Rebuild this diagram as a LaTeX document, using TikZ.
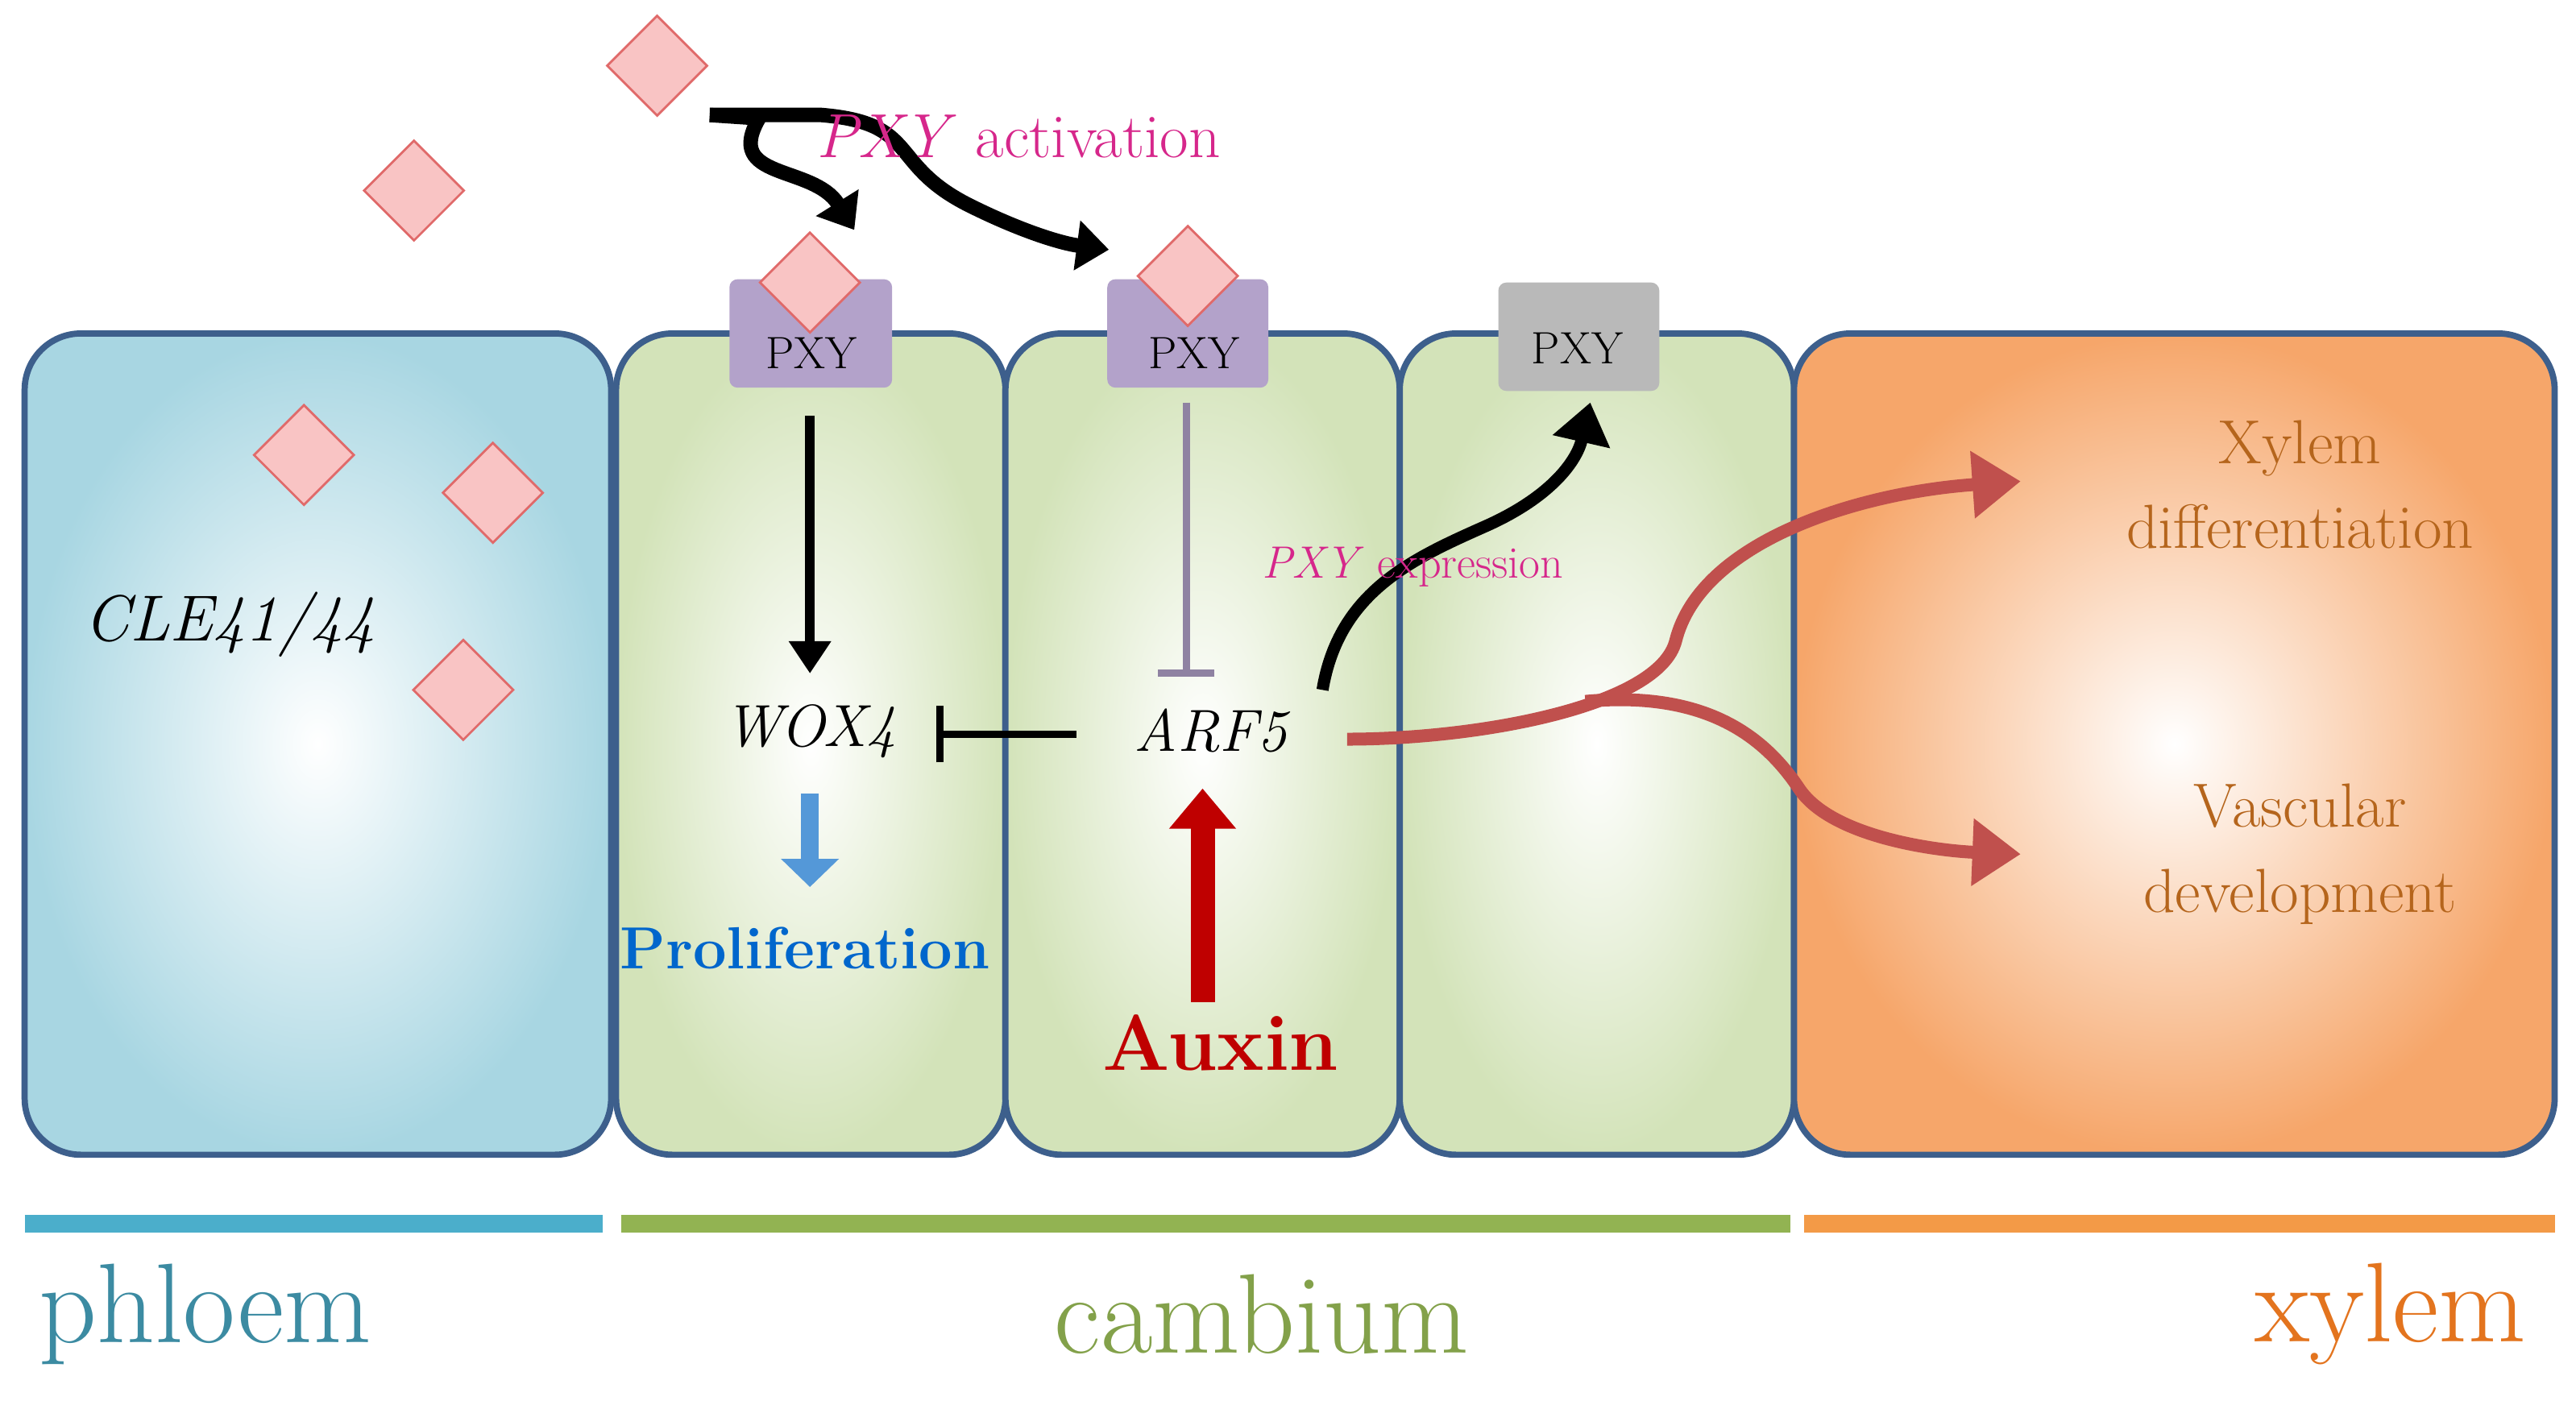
\documentclass[tikz,border=0pt]{standalone}
\usetikzlibrary{arrows.meta,shapes.geometric}
\definecolor{cellb}{HTML}{3D5F8C}
\definecolor{dpink}{HTML}{F9C4C4}
\definecolor{dpinkb}{HTML}{E06A6A}
\definecolor{mag}{HTML}{D6278B}
\definecolor{purp}{HTML}{B3A2CA}
\definecolor{phl}{HTML}{A8D6E2}
\definecolor{cam}{HTML}{D3E3B9}
\definecolor{xyl}{HTML}{F6A66A}
\definecolor{brn}{HTML}{B5651C}
\definecolor{pbarc}{HTML}{4BAECB}
\definecolor{cbarc}{HTML}{92B352}
\definecolor{xbarc}{HTML}{F39A47}
\definecolor{xtext}{HTML}{E3741E}
\definecolor{redarr}{HTML}{C0504D}
\begin{document}
\begin{tikzpicture}[x=0.2039mm,y=-0.2039mm,
  cell/.style={draw=cellb,line width=2.2pt,rounded corners=7mm},
  dia/.style={diamond,draw=dpinkb,fill=dpink,line width=0.8pt,minimum width=12.5mm,minimum height=12.5mm,inner sep=0},
  lab/.style={font=\fontsize{22}{26}\selectfont},
  bar/.style={line width=2.2mm}]
\useasboundingbox (0,0) rectangle (1568,855);
% cells
\path[cell,inner color=white,outer color=phl] (15,203) rectangle (372,703);
\path[cell,inner color=white,outer color=cam] (375,203) rectangle (612,703);
\path[cell,inner color=white,outer color=cam] (612,203) rectangle (852,703);
\path[cell,inner color=white,outer color=cam] (852,203) rectangle (1092,703);
\path[cell,inner color=white,outer color=xyl] (1092,203) rectangle (1555,703);
% bars
\draw[bar,pbarc] (15,745) -- (367,745);
\draw[bar,cbarc] (378,745) -- (1090,745);
\draw[bar,xbarc] (1098,745) -- (1555,745);
\node[text=pbarc!80!black,font=\fontsize{40}{44}\selectfont] (ph) at (125,800) {phloem};
\node[text=cbarc!90!black,font=\fontsize{40}{44}\selectfont] (ca) at (768,800) {cambium};
\node[text=xtext,font=\fontsize{40}{44}\selectfont] (xy) at (1455,800) {xylem};
% receptors
\fill[purp,rounded corners=1mm] (444,170) -- (468,170) -- (493,200) -- (518,170) -- (543,170) -- (543,236) -- (444,236) -- cycle;
\fill[purp,rounded corners=1mm] (674,170) -- (698,170) -- (723,200) -- (748,170) -- (772,170) -- (772,236) -- (674,236) -- cycle;
\fill[gray!55,rounded corners=1mm] (912,172) rectangle (1010,238);
\node[lab,font=\fontsize{16}{18}\selectfont] (r1) at (494,215) {PXY};
\node[lab,font=\fontsize{16}{18}\selectfont] (r2) at (727,215) {PXY};
\node[lab,font=\fontsize{16}{18}\selectfont] (r3) at (960,212) {PXY};
% diamonds
\node[dia] (d1) at (400,40) {};
\node[dia] (d2) at (252,116) {};
\node[dia] (d3) at (185,277) {};
\node[dia] (d4) at (300,300) {};
\node[dia] (d5) at (282,420) {};
\node[dia] (d6) at (493,172) {};
\node[dia] (d7) at (723,168) {};
% arrows
\coordinate (s0) at (432,70);
\coordinate (t1) at (520,140);
\coordinate (t2) at (675,152);
\draw[line width=1.8mm,-{Triangle[length=4mm,width=6mm]}] (s0) -- (462,72) .. controls (440,110) and (495,100) .. (t1);
\draw[line width=1.8mm,-{Triangle[length=4mm,width=6mm]}] (s0) -- (500,70) .. controls (560,75) and (540,100) .. (590,125) .. controls (620,140) and (645,148) .. (t2);
\draw[line width=1.2mm,-{Triangle[length=4mm,width=5mm]}] (493,253) -- (493,410);
\draw[line width=0.9mm,purp!80!black,-{Bar[width=7mm]}] (722,245) -- (722,412);
\draw[line width=0.9mm,-{Bar[width=7mm]}] (655,447) -- (570,447);
\draw[line width=2.2mm,cyan!60!blue!70,-{Triangle[length=3.5mm,width=7mm]}] (493,483) -- (493,540);
\draw[line width=3mm,red!75!black,-{Triangle[length=5mm,width=8mm]}] (732,610) -- (732,480);
\draw[line width=1.5mm,-{Triangle[length=5mm,width=7mm]}] (805,420) .. controls (815,360) and (860,340) .. (905,320) .. controls (945,302) and (960,280) .. (968,245);
\draw[line width=1.6mm,redarr,-{Triangle[length=6mm,width=8mm]}] (820,450) .. controls (900,450) and (1010,430) .. (1020,390) .. controls (1035,330) and (1130,300) .. (1230,293);
\draw[line width=1.6mm,redarr,-{Triangle[length=6mm,width=8mm]}] (965,427) .. controls (1040,420) and (1075,450) .. (1095,480) .. controls (1115,510) and (1180,518) .. (1230,520);
% texts
\node[lab,text=mag] (act) at (620,83) {\textit{PXY} activation};
\node[lab,font=\fontsize{23}{30}\selectfont\itshape] (cle) at (140,380) {CLE41/44};
\node[lab,font=\fontsize{21}{26}\selectfont\itshape] (wox) at (493,445) {WOX4};
\node[lab,font=\fontsize{21}{26}\selectfont\itshape] (arf) at (737,445) {ARF5};
\node[lab,font=\fontsize{21}{28}\selectfont\bfseries,text=blue!50!cyan!80!black] (pro) at (490,577) {Proliferation};
\node[lab,font=\fontsize{28}{34}\selectfont\bfseries,text=red!75!black] (aux) at (743,635) {Auxin};
\node[lab,font=\fontsize{16}{20}\selectfont,text=mag] (exp) at (860,345) {\textit{PXY} expression};
\node[lab,text=brn,align=center,font=\fontsize{22}{30}\selectfont] (xd) at (1400,295) {Xylem\\differentiation};
\node[lab,text=brn,align=center,font=\fontsize{22}{30}\selectfont] (vd) at (1400,520) {Vascular\\development};
\end{tikzpicture}
\end{document}
